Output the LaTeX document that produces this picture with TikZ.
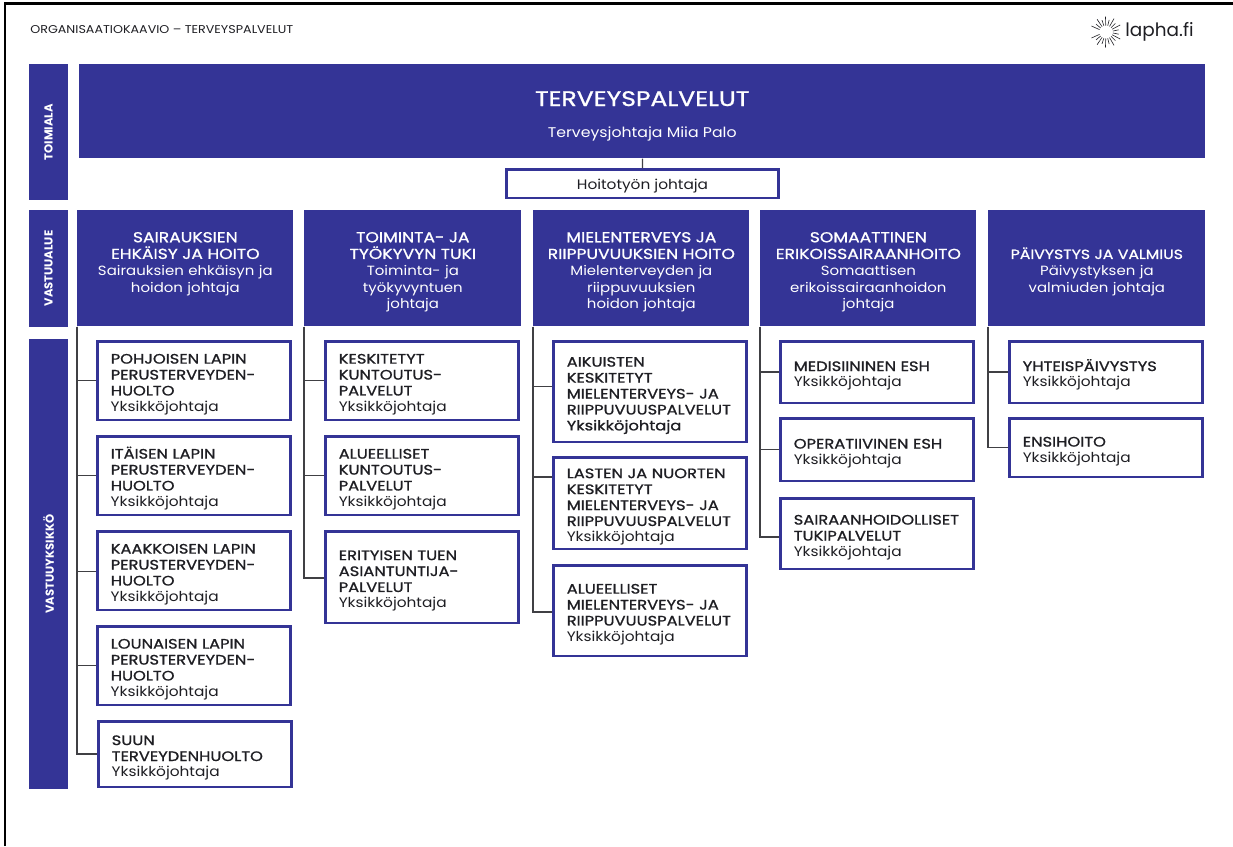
\documentclass[tikz,border=0pt]{standalone}
\usepackage{fontspec}
\setmainfont[FakeStretch=1.12]{Poppins}
\newfontfamily\plainfont{Poppins}
\newfontfamily\capsfont[FakeStretch=1.19,FakeBold=1.0]{Poppins}
\definecolor{laphablue}{RGB}{52,52,150}
\definecolor{laphatext}{RGB}{30,30,35}
\newcommand{\boss}{Yksikköjohtaja}
\newcommand{\unitname}[1]{{\capsfont #1}}
\newcommand{\headname}[1]{{\capsfont\fontsize{8.2}{9.47}\selectfont #1}}
\tikzset{
	bandbox/.style={fill=laphablue,text=white,anchor=center,rotate=90,minimum height=0.78cm,minimum width=#1*0.02cm,inner sep=0pt,font=\fontsize{6.6}{8}\plainfont\bfseries},
	headbox/.style={fill=laphablue,text=white,anchor=north west,minimum width=#1*0.02cm,minimum height=2.32cm,inner sep=0pt,text width=#1*0.02cm-0.1cm,align=center,font=\fontsize{7.6}{9.47}\selectfont,execute at begin node={\rule{0pt}{10.2pt}}},
	unitbox/.style={draw=laphablue,line width=0.05cm,fill=white,text=laphatext,anchor=north west,minimum width=3.87cm,minimum height=#1*0.02cm,inner xsep=0.27cm,inner ysep=0pt,text width=3.33cm,align=left,font=\fontsize{7.8}{9.07}\selectfont,execute at begin node={\hyphenpenalty=10000\relax\rule{0pt}{10pt}}},
	link/.style={draw=laphatext!85,line width=0.026cm},
}
\begin{document}
\begin{tikzpicture}[x=0.02cm,y=-0.02cm]
	\useasboundingbox (0,0) rectangle (1233,846);
	% frame
	\draw[black,line width=0.06cm] (5,846) -- (5,3.5) -- (1233,3.5);
	% heading and logo
	\node[anchor=west,inner sep=0pt,text=laphatext,font=\fontsize{6.45}{8}\selectfont] (title) at (30,30) {ORGANISAATIOKAAVIO – TERVEYSPALVELUT};
	\foreach \a [count=\i] in {12,28,...,170} {
		\pgfmathsetmacro{\raylen}{int(mod(\i,2))==1 ? 6 : 9}
		\draw[laphatext,line width=0.012cm] (1106,31.5) ++(\a:7) -- ++(\a:\raylen);
		\draw[laphatext,line width=0.012cm] (1106,32.5) ++(-\a:7) -- ++(-\a:\raylen);
	}
	\node[anchor=west,inner sep=0pt,text=laphatext,font=\fontsize{10.5}{13}\plainfont] (logo) at (1125,32) {lapha.fi};
	% left bands
	\node[bandbox=136] (toimiala) at (48.5,132) {TOIMIALA};
	\node[bandbox=117] (vastuualue) at (48.5,268.5) {VASTUUALUE};
	\node[bandbox=450] (vastuuyksikko) at (48.5,564) {VASTUUYKSIKKÖ};
	% top of the organisation
	\node[fill=laphablue,text=white,anchor=north west,minimum width=22.52cm,minimum height=1.88cm,inner sep=0pt,align=center,font=\fontsize{8}{14}\selectfont] (terveys) at (79,64) {\rule{0pt}{14pt}{\capsfont\fontsize{12}{14}\selectfont TERVEYSPALVELUT}\\[4pt]Terveysjohtaja Miia Palo};
	\node[draw=laphablue,line width=0.05cm,text=laphatext,anchor=north west,minimum width=5.45cm,minimum height=0.57cm,inner sep=0pt,font=\fontsize{7.8}{9.07}\selectfont] (hoitotyo) at (505,168) {\rule{0pt}{8.6pt}Hoitotyön johtaja};
	\draw[link] (terveys) -- (hoitotyo);
	% areas of responsibility
	\node[headbox=216] (ehkaisy) at (77,210) {\headname{SAIRAUKSIEN\\EHKÄISY JA HOITO}\\Sairauksien ehkäisyn ja\\hoidon johtaja\\\rule[-2pt]{0pt}{2pt}};
	\node[headbox=217] (toiminta) at (304,210) {\headname{TOIMINTA- JA\\TYÖKYVYN TUKI}\\Toiminta- ja\\työkyvyntuen\\johtaja};
	\node[headbox=216] (mieli) at (533,210) {\headname{MIELENTERVEYS JA\\RIIPPUVUUKSIEN HOITO}\\Mielenterveyden ja\\riippuvuuksien\\hoidon johtaja};
	\node[headbox=216] (somaat) at (760,210) {\headname{SOMAATTINEN\\ERIKOISSAIRAANHOITO}\\Somaattisen\\erikoissairaanhoidon\\johtaja};
	\node[headbox=217] (paivystys) at (988,210) {{\capsfont\fontsize{7.5}{9.47}\selectfont PÄIVYSTYS JA VALMIUS}\\Päivystyksen ja\\valmiuden johtaja};
	% units, first column
	\node[unitbox=78.5] (pohjoinen) at (96,340) {\unitname{POHJOISEN LAPIN\\PERUSTERVEYDEN-\\HUOLTO}\\\boss};
	\node[unitbox=78.5] (itainen) at (96,435) {\unitname{ITÄISEN LAPIN\\PERUSTERVEYDEN-\\HUOLTO}\\\boss};
	\node[unitbox=78.5] (kaakko) at (96,530) {\unitname{KAAKKOISEN LAPIN\\PERUSTERVEYDEN-\\HUOLTO}\\\boss};
	\node[unitbox=78.5] (lounas) at (96,625) {\unitname{LOUNAISEN LAPIN\\PERUSTERVEYDEN-\\HUOLTO}\\\boss};
	\node[unitbox=65.5] (suun) at (97,720) {\unitname{SUUN\\TERVEYDENHUOLTO}\\\boss};
	% second column
	\node[unitbox=78.5] (keskitetyt) at (324,340) {\unitname{KESKITETYT\\KUNTOUTUS-\\PALVELUT}\\\boss};
	\node[unitbox=78.5] (alueelliset) at (324,435) {\unitname{ALUEELLISET\\KUNTOUTUS-\\PALVELUT}\\\boss};
	\node[unitbox=91.5] (erityinen) at (324,530) {\unitname{ERITYISEN TUEN\\ASIANTUNTIJA-\\PALVELUT}\\\boss};
	% third column
	\node[unitbox=100.5] (aikuiset) at (552,340) {\unitname{AIKUISTEN\\KESKITETYT\\MIELENTERVEYS- JA\\RIIPPUVUUSPALVELUT\\\boss}};
	\node[unitbox=91.5] (lapset) at (552,456) {\unitname{LASTEN JA NUORTEN\\KESKITETYT\\MIELENTERVEYS- JA\\RIIPPUVUUSPALVELUT}\\\boss};
	\node[unitbox=90.5] (mielialue) at (552,564) {\unitname{ALUEELLISET\\MIELENTERVEYS- JA\\RIIPPUVUUSPALVELUT}\\\boss};
	% fourth column
	\node[unitbox=61.5] (medisiin) at (779,340) {\unitname{MEDISIININEN ESH}\\\boss};
	\node[unitbox=62.5] (operat) at (779,417) {\unitname{OPERATIIVINEN ESH}\\\boss};
	\node[unitbox=70.5] (tuki) at (779,497) {\unitname{SAIRAANHOIDOLLISET\\TUKIPALVELUT}\\\boss};
	% fifth column
	\node[unitbox=61.5] (yhteis) at (1008,340) {\unitname{YHTEISPÄIVYSTYS}\\\boss};
	\node[unitbox=58.5] (ensi) at (1008,417) {\unitname{ENSIHOITO}\\\boss};
	% connectors, the last number moves the branch away from the middle of the box
	\foreach \head/\unit/\dy in {ehkaisy/pohjoinen/0,ehkaisy/itainen/0,ehkaisy/kaakko/1,ehkaisy/lounas/0,ehkaisy/suun/0,
		toiminta/keskitetyt/0,toiminta/alueelliset/0,toiminta/erityinen/1,
		mieli/aikuiset/-5,mieli/lapset/-26,mieli/mielialue/1.5,
		somaat/medisiin/0,somaat/operat/0,somaat/tuki/3.5,
		paivystys/yhteis/0,paivystys/ensi/0} {
		\draw[link] (\head.south west) |- ([yshift=\dy*-0.02cm]\unit.west);
	}
\end{tikzpicture}
\end{document}
